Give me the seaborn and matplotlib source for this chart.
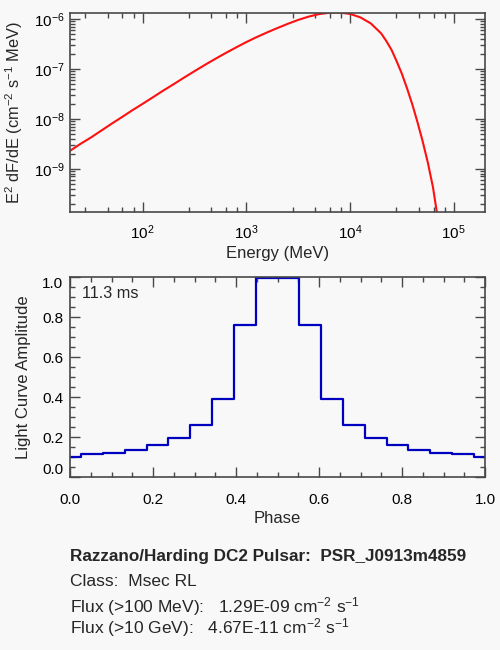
import numpy as np
import pandas as pd
import seaborn as sns
import matplotlib
matplotlib.use("Agg")
import matplotlib.pyplot as plt
from matplotlib.ticker import FixedLocator, NullFormatter

# spectrum: E (MeV) vs E^2 dF/dE
energy = [20, 25, 32, 40, 50, 63, 79, 100, 126, 158, 200, 251, 316, 398, 501,
          631, 794, 1000, 1259, 1585, 1995, 2512, 3162, 3981, 5012, 6310,
          7079, 7943, 10000, 12589, 15849, 19953, 22387, 25119, 28184, 31623,
          35481, 39811, 44668, 50119, 56234, 63096, 70795]
e2dfde = [2.28e-9, 3.11e-9, 4.25e-9, 5.79e-9, 7.89e-9, 1.074e-8, 1.462e-8,
          1.986e-8, 2.70e-8, 3.66e-8, 4.94e-8, 6.67e-8, 8.95e-8, 1.194e-7,
          1.578e-7, 2.065e-7, 2.67e-7, 3.43e-7, 4.32e-7, 5.35e-7, 6.56e-7,
          7.96e-7, 9.53e-7, 1.109e-6, 1.245e-6, 1.327e-6, 1.346e-6, 1.34e-6,
          1.259e-6, 1.072e-6, 8.13e-7, 5.13e-7, 3.60e-7, 2.40e-7, 1.41e-7,
          7.94e-8, 4.05e-8, 1.95e-8, 8.6e-9, 3.55e-9, 1.33e-9, 4.22e-10,
          8.9e-11]

# light curve
phase = [0.000, 0.053, 0.105, 0.158, 0.211, 0.263, 0.316, 0.368, 0.421, 0.474,
         0.526, 0.579, 0.632, 0.684, 0.737, 0.789, 0.842, 0.895, 0.947, 1.000]
amplitude = [0.103, 0.115, 0.123, 0.137, 0.162, 0.198, 0.26, 0.393, 0.762, 0.995,
             0.995, 0.762, 0.393, 0.26, 0.198, 0.162, 0.137, 0.123, 0.115, 0.103]

pulsar_name = "PSR_J0913m4859"
pulsar_class = "Msec RL"
period_text = "11.3 ms"
flux_100mev = "1.29E-09"
flux_10gev = "4.67E-11"

sns.set_style("ticks")
bg = "#f8f8f8"
edge = "#484848"
plt.rcParams["font.family"] = ["Liberation Sans", "DejaVu Sans"]
plt.rcParams["mathtext.fontset"] = "custom"
plt.rcParams["mathtext.rm"] = "Liberation Sans"
plt.rcParams["mathtext.it"] = "Liberation Sans:italic"
plt.rcParams["mathtext.bf"] = "Liberation Sans:bold"
plt.rcParams["font.size"] = 11

fig = plt.figure(figsize=(5, 6.5), dpi=100, facecolor=bg)
ax1 = fig.add_axes([0.14, 0.6738, 0.83, 0.3069], facecolor=bg)
ax2 = fig.add_axes([0.14, 0.2657, 0.83, 0.3077], facecolor=bg)

spec = pd.DataFrame({"energy": energy, "flux": e2dfde})
sns.lineplot(data=spec, x="energy", y="flux", ax=ax1, color="#ff1010", lw=1.5)
ax1.set_xscale("log")
ax1.set_yscale("log")
ax1.set_xlim(20, 2.0e5)
ax1.set_ylim(1.36e-10, 1.34e-6)
ax1.set_xticks([1e2, 1e3, 1e4, 1e5])
ax1.set_yticks([1e-9, 1e-8, 1e-7, 1e-6])
# IDL style minor ticks: linear steps inside each decade on x
xminor = [10.0 ** n * (1 + 1.8 * k) for n in range(1, 5) for k in range(1, 5)]
ax1.xaxis.set_minor_locator(FixedLocator(xminor))
yminor = [10.0 ** n * k for n in range(-10, -6) for k in range(2, 10)]
ax1.yaxis.set_minor_locator(FixedLocator(yminor))
ax1.xaxis.set_minor_formatter(NullFormatter())
ax1.yaxis.set_minor_formatter(NullFormatter())
ax1.set_xlabel("Energy (MeV)", labelpad=3, fontsize=12)
ax1.set_ylabel(r"E$^2$ dF/dE (cm$^{-2}$ s$^{-1}$ MeV)", labelpad=6,
               fontsize=11.8)

lc = pd.DataFrame({"phase": phase, "amp": amplitude})
sns.lineplot(data=lc, x="phase", y="amp", ax=ax2, color="#0000c0", lw=1.6,
             drawstyle="steps-mid")
ax2.set_xlim(0, 1)
ax2.set_ylim(0, 1)
ticks = np.arange(0, 1.01, 0.2)
ax2.set_xticks(ticks)
ax2.set_yticks(ticks)
ax2.xaxis.set_minor_locator(FixedLocator(np.arange(0, 1.001, 0.05)))
ax2.yaxis.set_minor_locator(FixedLocator(np.arange(0, 1.001, 0.05)))
ax2.set_xticklabels([f"{v:.1f}" for v in ticks])
ax2.set_yticklabels([f"{v:.1f}" for v in ticks])
labs = ax2.get_yticklabels()
labs[0].set_va("bottom")
labs[-1].set_va("top")
ax2.set_xlabel("Phase", labelpad=3, fontsize=12)
ax2.set_ylabel("Light Curve Amplitude", labelpad=8, fontsize=12)
ax2.text(0.028, 0.92, period_text, transform=ax2.transAxes, va="center",
         ha="left", fontsize=11.7)

for ax in (ax1, ax2):
    for s in ax.spines.values():
        s.set_color(edge)
        s.set_linewidth(1.2)
    ax.tick_params(which="both", direction="in", top=True, right=True,
                   color=edge, width=1.0, labelcolor="black")
    ax.tick_params(which="major", length=7)
    ax.tick_params(which="minor", length=3.5)
ax1.tick_params(axis="x", which="major", pad=8)
ax1.tick_params(axis="y", which="major", pad=4)
ax2.tick_params(axis="x", which="major", pad=11)
ax2.tick_params(axis="y", which="major", pad=5)

fig.text(0.14, 1 - 556.7 / 650, f"Razzano/Harding DC2 Pulsar:  {pulsar_name}",
         va="center", ha="left", fontweight="bold", fontsize=12.3)
fig.text(0.14, 1 - 581.7 / 650, f"Class:  {pulsar_class}", va="center",
         ha="left", fontsize=12.5)
fig.text(0.14, 1 - 607 / 650,
         f"Flux (>100 MeV):   {flux_100mev} cm$^{{-2}}$ s$^{{-1}}$",
         va="center", ha="left", fontsize=12.5)
fig.text(0.14, 1 - 628 / 650,
         f"Flux (>10 GeV):   {flux_10gev} cm$^{{-2}}$ s$^{{-1}}$",
         va="center", ha="left", fontsize=12.5)

fig.savefig("out.png", dpi=100, facecolor=bg)
